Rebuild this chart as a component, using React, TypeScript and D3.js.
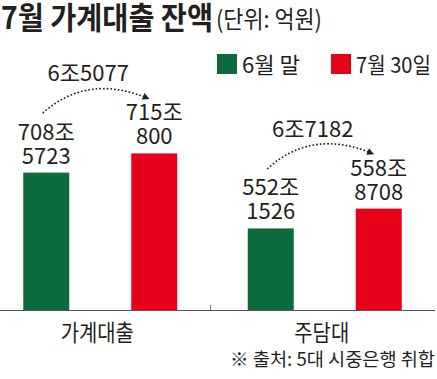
import React from "react";
import * as d3 from "d3";

// ---------- data ----------
const title = "7월 가계대출 잔액";
const unitLabel = "(단위: 억원)";
const categories = ["가계대출", "주담대"];
const seriesNames = ["6월 말", "7월 30일"];
const juneEnd = [7085723, 5521526]; // 억원
const july30 = [7150800, 5588708]; // 억원
const axisFloor = [6620000, 5245000]; // truncated-axis floor per category (억원)
const sourceNote = "※ 출처: 5대 시중은행 취합";

const COLORS = ["#0b6b3a", "#e60019"];
const INK = "#231f20";
const FONT = "'Noto Sans CJK KR', 'Noto Sans', sans-serif";
const NUM_FONT = "'Liberation Sans Narrow', 'Noto Sans CJK KR', sans-serif";

const W = 437;
const H = 379;
const BASE_Y = 310;

function fmtJo(v: number): [string, string] {
  const jo = Math.floor(v / 10000);
  const rest = v % 10000;
  return [`${jo}조`, `${rest}`];
}
function fmtDiff(v: number): string {
  const jo = Math.floor(v / 10000);
  const rest = v % 10000;
  return `${jo}조${rest}`;
}

export default function App() {
  const xGroup = d3.scaleBand<string>().domain(categories).range([-12, 437]).padding(0);
  const xSub = d3.scaleBand<string>().domain(seriesNames).range([-77, 77]).paddingInner(0.574).paddingOuter(0);
  const y = d3.scaleLinear().domain([0, 600000]).range([BASE_Y, BASE_Y - 177]);

  const series = [juneEnd, july30];

  return (
    <svg
      width={W}
      height={H}
      viewBox={`0 0 ${W} ${H}`}
      style={{ position: "absolute", left: 0, top: 0, background: "#fff" }}
      fontFamily={FONT}
    >
      <defs>
        <marker id="arrow" viewBox="0 0 10 10" refX="8" refY="5" markerWidth="7" markerHeight="7" orient="auto" markerUnits="userSpaceOnUse">
          <path d="M0,0 L10,5 L0,10 z" fill={INK} />
        </marker>
      </defs>
      <rect x={0} y={0} width={W} height={H} fill="#fff" />
      {/* title */}
      <text x={1} y={29} fontSize={31} fontWeight={700} fill={INK} textLength={212} lengthAdjust="spacingAndGlyphs">
        {title}
      </text>
      <text x={216} y={28} fontSize={24} fill={INK} textLength={106} lengthAdjust="spacingAndGlyphs">
        {unitLabel}
      </text>

      {/* legend */}
      {seriesNames.map((s, i) => {
        const lx = i === 0 ? 217 : 331;
        const tl = i === 0 ? 58 : 75;
        return (
          <g key={s}>
            <rect x={lx} y={54} width={20} height={20} fill={COLORS[i]} />
            <text x={lx + 25} y={73} fontSize={22} fill={INK} textLength={tl} lengthAdjust="spacingAndGlyphs">
              {s}
            </text>
          </g>
        );
      })}

      {/* bars */}
      {categories.map((c, ci) => {
        const gc = (xGroup(c) as number) + xGroup.bandwidth() / 2;
        const floor = axisFloor[ci];
        const tops = series.map((arr) => y(arr[ci] - floor));
        const centers = seriesNames.map((s) => gc + (xSub(s) as number) + xSub.bandwidth() / 2);
        const diff = july30[ci] - juneEnd[ci];
        const p0 = [centers[0] - 3, tops[0] - 60];
        const p2 = [centers[1] - 6, tops[1] - 55];
        const peakY = tops[1] - 64;
        const cy = (4 * peakY - p0[1] - p2[1]) / 2;
        const cx = (p0[0] + p2[0]) / 2 - 8;
        return (
          <g key={c}>
            {seriesNames.map((s, si) => {
              const x0 = gc + (xSub(s) as number);
              const [l1, l2] = fmtJo(series[si][ci]);
              return (
                <g key={s}>
                  <rect x={x0} y={tops[si]} width={xSub.bandwidth()} height={BASE_Y - tops[si]} fill={COLORS[si]} />
                  <text fontSize={22} textAnchor="middle" fill={INK} fontFamily={NUM_FONT}>
                    <tspan x={centers[si]} y={tops[si] - 33}>{l1}</tspan>
                    <tspan x={centers[si]} y={tops[si] - 9}>{l2}</tspan>
                  </text>
                </g>
              );
            })}
            <path
              d={`M${p0[0]},${p0[1]} Q${cx},${cy} ${p2[0]},${p2[1]}`}
              fill="none"
              stroke={INK}
              strokeWidth={1.8}
              strokeDasharray="0.1 3.6"
              strokeLinecap="round"
              markerEnd="url(#arrow)"
            />
            <text x={gc - 12} y={tops[1] - 72} fontSize={22} textAnchor="middle" fill={INK} fontFamily={NUM_FONT}>
              {fmtDiff(diff)}
            </text>
            <text x={gc - 3} y={341} fontSize={23} textAnchor="middle" fill={INK} textLength={c.length * 18.3} lengthAdjust="spacingAndGlyphs">
              {c}
            </text>
          </g>
        );
      })}

      {/* baseline */}
      <line x1={0} x2={435} y1={BASE_Y + 0.5} y2={BASE_Y + 0.5} stroke="#555" strokeWidth={1} />
      <line x1={210.5} x2={210.5} y1={BASE_Y - 5} y2={BASE_Y} stroke="#777" strokeWidth={1} />

      {/* source */}
      <text x={435} y={366} fontSize={18} textAnchor="end" fill={INK} textLength={205} lengthAdjust="spacingAndGlyphs">
        {sourceNote}
      </text>
    </svg>
  );
}
